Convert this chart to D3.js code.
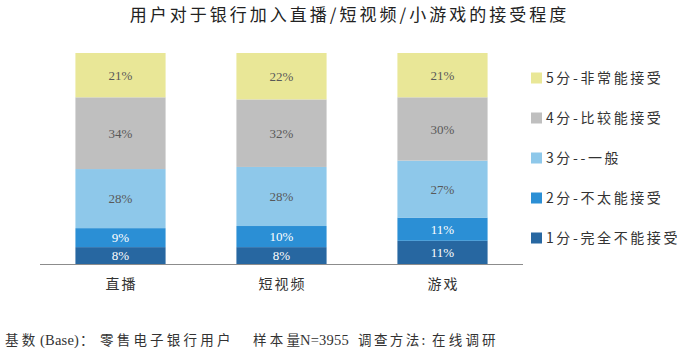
<!DOCTYPE html>
<html>
<head>
<meta charset="utf-8">
<script src="https://cdn.jsdelivr.net/npm/d3@7"></script>
<style>
  body { margin: 0; background: #fff; }
  svg text { font-family: "Noto Sans CJK SC", sans-serif; }
</style>
</head>
<body>
<svg id="canvas" width="700" height="355"></svg>
<script>
let canvas = d3.select('#canvas')

// data
let categories = ['直播', '短视频', '游戏']
let seriesNames = ['1分-完全不能接受', '2分-不太能接受', '3分--一般', '4分-比较能接受', '5分-非常能接受']
let score1 = [8, 8, 11]
let score2 = [9, 10, 11]
let score3 = [28, 28, 27]
let score4 = [34, 32, 30]
let score5 = [21, 22, 21]
let colors = ['#2767a1', '#2b8fd5', '#8ec8ea', '#bfbfbf', '#e9e797']
let labelColors = ['#ffffff', '#ffffff', '#595959', '#595959', '#595959']
// footer pieces: [text, x, serif?, spacing]
let footerParts = [
    ['基数', 5, false, 3.2], ['(Base)', 40, true, 0.2], ['：', 80, false, 0], ['零售电子银行用户', 100, false, 3.2],
    ['样本量', 253, false, 3.2], ['N=3955', 300, true, 0.2],
    ['调查方法:', 358, false, 2.4], ['在线调研', 432, false, 3.2]
]

let seriesValues = [score1, score2, score3, score4, score5]
let table = categories.map((c, i) => {
    let row = {cat: c}
    seriesNames.forEach((s, j) => { row[s] = seriesValues[j][i] })
    return row
})

let stack = d3.stack().keys(seriesNames)
let stacked = stack(table)

let x = d3.scaleBand()
    .domain(categories)
    .range([40, 523])
    .paddingInner(0.44)
    .paddingOuter(0.22)

let y = d3.scaleLinear()
    .domain([0, 100])
    .range([264, 53])

// title
canvas.append('text')
    .attr('x', 349.5)
    .attr('y', 21)
    .attr('text-anchor', 'middle')
    .attr('font-size', 17)
    .attr('letter-spacing', 3)
    .attr('fill', '#222')
    .text('用户对于银行加入直播/短视频/小游戏的接受程度')

let groups = canvas.selectAll('g.series')
    .data(stacked)
    .enter()
    .append('g')
    .attr('class', 'series')

groups.selectAll('rect')
    .data((s, i) => s.map(d => ({d: d, i: i})))
    .enter()
    .append('rect')
    .attr('x', (o) => x(o.d.data.cat))
    .attr('width', x.bandwidth())
    .attr('y', (o) => y(o.d[1]))
    .attr('height', (o) => y(o.d[0]) - y(o.d[1]))
    .attr('fill', (o) => colors[o.i])

groups.selectAll('text')
    .data((s, i) => s.map(d => ({d: d, i: i})))
    .enter()
    .append('text')
    .attr('x', (o) => x(o.d.data.cat) + x.bandwidth() / 2)
    .attr('y', (o) => (y(o.d[0]) + y(o.d[1])) / 2)
    .attr('dy', '0.35em')
    .attr('text-anchor', 'middle')
    .attr('font-size', 13)
    .style('font-family', '"Liberation Serif", serif')
    .attr('fill', (o) => labelColors[o.i])
    .text((o) => (o.d[1] - o.d[0]) + '%')

// axis line
canvas.append('line')
    .attr('x1', 40).attr('x2', 523)
    .attr('y1', 264.5).attr('y2', 264.5)
    .attr('stroke', '#8c8c8c')
    .attr('stroke-width', 1.2)

canvas.selectAll('text.cat')
    .data(categories)
    .enter()
    .append('text')
    .attr('class', 'cat')
    .attr('x', (c) => x(c) + x.bandwidth() / 2 + 1)
    .attr('y', 289)
    .attr('text-anchor', 'middle')
    .attr('font-size', 14)
    .attr('letter-spacing', 2)
    .attr('fill', '#333')
    .text((c) => c)

// legend, top to bottom = 5..1
let legendOrder = d3.range(seriesNames.length).reverse()
let legend = canvas.selectAll('g.legend')
    .data(legendOrder)
    .enter()
    .append('g')
    .attr('class', 'legend')
    .attr('transform', (j, k) => 'translate(531,' + (78 + k * 40) + ')')

legend.append('rect')
    .attr('x', 0).attr('y', -5.5)
    .attr('width', 11).attr('height', 11)
    .attr('fill', (j) => colors[j])

legend.append('text')
    .attr('x', 15)
    .attr('y', 0)
    .attr('dy', '0.35em')
    .attr('font-size', 14)
    .attr('letter-spacing', 2.6)
    .attr('fill', '#333')
    .text((j) => seriesNames[j])

// footer
canvas.selectAll('text.foot')
    .data(footerParts)
    .enter()
    .append('text')
    .attr('class', 'foot')
    .attr('x', (p) => p[1])
    .attr('y', 345)
    .attr('font-size', (p) => p[2] ? 14.5 : 13.5)
    .attr('letter-spacing', (p) => p[3])
    .style('font-family', (p) => p[2] ? '"Liberation Serif", serif' : null)
    .attr('fill', '#333')
    .text((p) => p[0])
</script>
</body>
</html>
